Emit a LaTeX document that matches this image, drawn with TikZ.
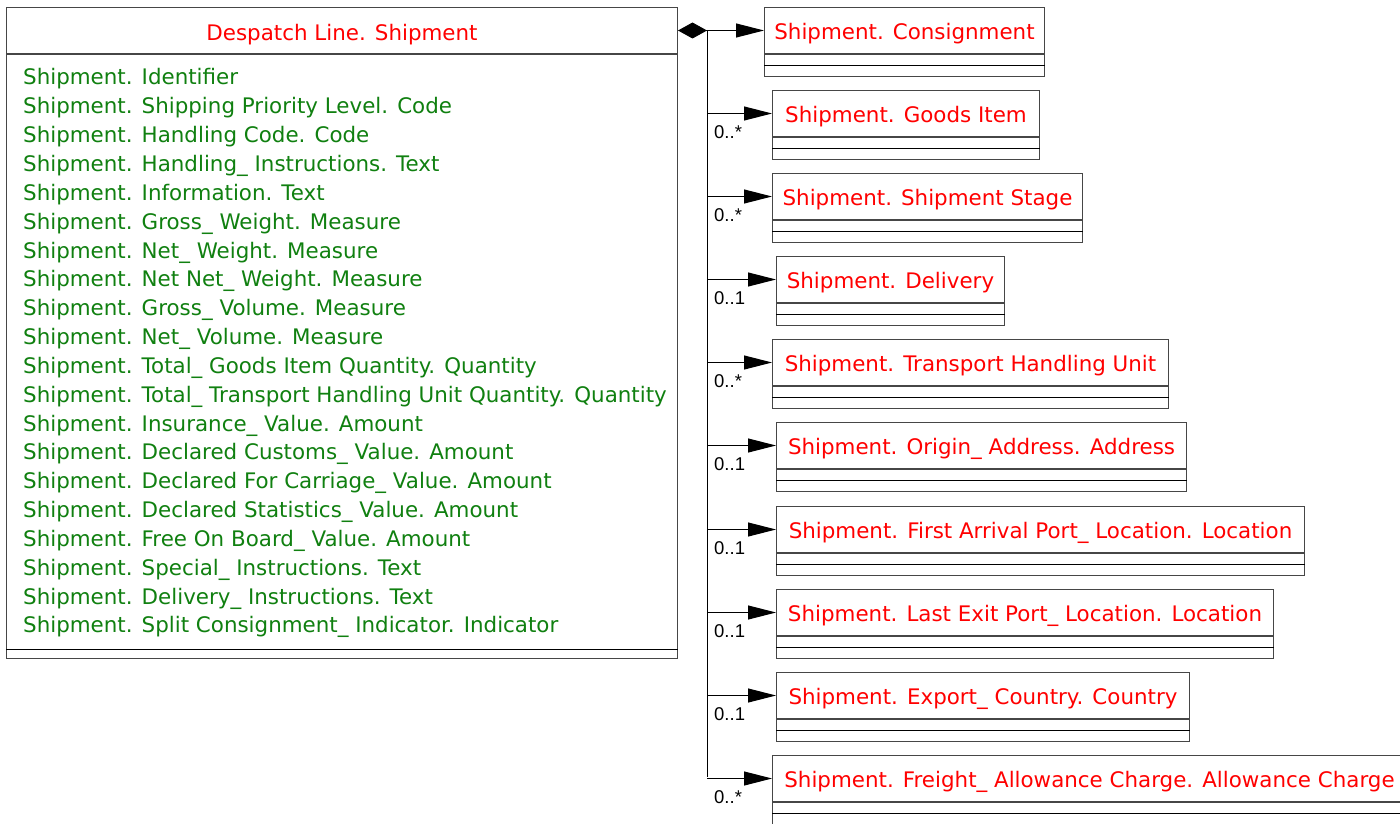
\documentclass[tikz,border=0pt]{standalone}
\usepackage{fontspec}
\setmainfont{DejaVu Sans}
\newfontfamily\multfont{Liberation Sans}
\usetikzlibrary{arrows.meta}
\definecolor{clsred}{RGB}{255,0,0}
\definecolor{attgreen}{RGB}{16,128,16}
\definecolor{frame}{RGB}{70,70,70}
\tikzset{
  boxline/.style={draw=frame, line width=1pt},
  sepline/.style={draw=black, line width=1pt},
  clsname/.style={font=\fontsize{21.4}{21.4}\selectfont, text=clsred, inner sep=0pt, anchor=base},
  attr/.style={font=\fontsize{21.4}{21.4}\selectfont, text=attgreen, inner sep=0pt, anchor=base west},
  mult/.style={font=\multfont\fontsize{18.5}{18.5}\selectfont, text=black, inner sep=0pt, anchor=base west},
  assoc/.style={draw=black, line width=1pt, -{Triangle[length=28pt,width=14pt]}},
  compo/.style={draw=black, line width=1pt, {Diamond[length=29pt,width=16pt]}-{Triangle[length=28pt,width=14pt]}},
}
% #1 name, #2 left, #3 top, #4 right, #5 title
\newcommand\umlbox[5]{%
  \node[boxline, anchor=north west, minimum width={(#4-#2)*1pt}, minimum height=46pt, inner sep=0pt] (#1) at (#2,#3) {};
  \node[clsname] (#1-t) at (#1.north |- 0,#3+32.5) {#5};
  \node[boxline, anchor=north, minimum width={(#4-#2)*1pt}, minimum height=22pt, inner sep=0pt] (#1-b) at (#1.south) {};
  \draw[sepline] (#1-b.west) -- (#1-b.east);
}
\begin{document}
\begin{tikzpicture}[x=1pt,y=-1pt]
\useasboundingbox (0,0) rectangle (1400,824);
\fill[white] (0,0) rectangle (1400,824);
% main class
\node[boxline, anchor=north west, minimum width=671pt, minimum height=46pt, inner sep=0pt] (main) at (6,7) {};
\node[clsname] (main-t) at (main.north |- 0,41) {Despatch Line. Shipment};
\node[boxline, anchor=north, minimum width=671pt, minimum height=604pt, inner sep=0pt] (main-b) at (main.south) {};
\draw[sepline] ([yshift=10pt]main-b.south west) -- ([yshift=10pt]main-b.south east);
\foreach \t [count=\i from 0] in {%
 Shipment. Identifier,
 Shipment. Shipping Priority Level. Code,
 Shipment. Handling Code. Code,
 Shipment. Handling\_ Instructions. Text,
 Shipment. Information. Text,
 Shipment. Gross\_ Weight. Measure,
 Shipment. Net\_ Weight. Measure,
 Shipment. Net Net\_ Weight. Measure,
 Shipment. Gross\_ Volume. Measure,
 Shipment. Net\_ Volume. Measure,
 Shipment. Total\_ Goods Item Quantity. Quantity,
 Shipment. Total\_ Transport Handling Unit Quantity. Quantity,
 Shipment. Insurance\_ Value. Amount,
 Shipment. Declared Customs\_ Value. Amount,
 Shipment. Declared For Carriage\_ Value. Amount,
 Shipment. Declared Statistics\_ Value. Amount,
 Shipment. Free On Board\_ Value. Amount,
 Shipment. Special\_ Instructions. Text,
 Shipment. Delivery\_ Instructions. Text,
 Shipment. Split Consignment\_ Indicator. Indicator}
 \node[attr] (att\i) at (23,85+\i*28.84) {\t};
% associated classes
\umlbox{cons}{764}{7}{1044}{Shipment. Consignment}
\umlbox{goods}{772}{90}{1039}{Shipment. Goods Item}
\umlbox{stage}{772}{173}{1082}{Shipment. Shipment Stage}
\umlbox{deliv}{776}{256}{1004}{Shipment. Delivery}
\umlbox{thu}{772}{339}{1168}{Shipment. Transport Handling Unit}
\umlbox{origin}{776}{422}{1186}{Shipment. Origin\_ Address. Address}
\umlbox{first}{776}{506}{1304}{Shipment. First Arrival Port\_ Location. Location}
\umlbox{last}{776}{589}{1273}{Shipment. Last Exit Port\_ Location. Location}
\umlbox{export}{776}{672}{1189}{Shipment. Export\_ Country. Country}
\umlbox{freight}{772}{755}{1406}{Shipment. Freight\_ Allowance Charge. Allowance Charge}
% connectors
\coordinate (trunk) at (707,30);
\coordinate (trunkend) at (707,777);
\draw[compo] (main.east) -- (cons.west);
\draw[line width=1pt] (trunk) -- (trunkend);
\foreach \n/\m in {goods/0..*, stage/0..*, deliv/0..1, thu/0..*, origin/0..1, first/0..1, last/0..1, export/0..1, freight/0..*}{
  \draw[assoc] (trunk |- \n.west) -- (\n.west);
  \node[mult] (\n-m) at ([xshift=7pt,yshift=-25pt]trunk |- \n.west) {\m};
}
\end{tikzpicture}
\end{document}
